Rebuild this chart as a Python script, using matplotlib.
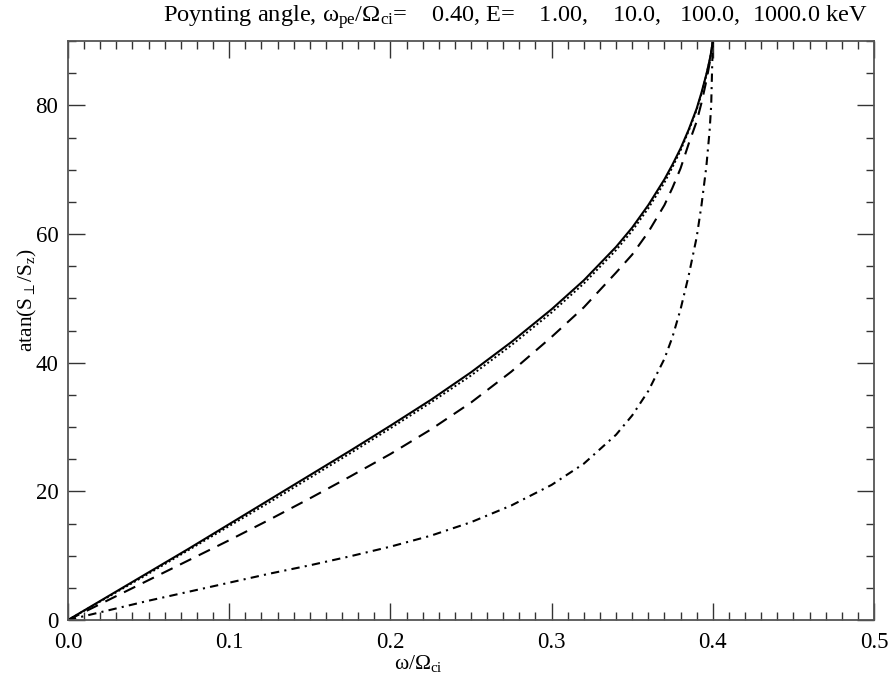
import numpy as np
import matplotlib
matplotlib.use('Agg')
import matplotlib.pyplot as plt
from matplotlib.ticker import MultipleLocator, FormatStrFormatter

plt.rcParams['font.family'] = ['Liberation Serif', 'DejaVu Serif']
plt.rcParams['mathtext.fontset'] = 'custom'
plt.rcParams['mathtext.rm'] = 'Liberation Serif'
plt.rcParams['mathtext.it'] = 'Liberation Serif'

# omega / Omega_ci
freq = [0.0, 0.025, 0.05, 0.075, 0.1, 0.125, 0.15, 0.175, 0.2, 0.225, 0.25, 0.275, 0.3,
        0.32, 0.34, 0.35, 0.36, 0.37, 0.375, 0.38, 0.385, 0.39, 0.393, 0.396, 0.398, 0.399, 0.4]

# Poynting angle (deg) for E = 1, 10, 100, 1000 keV
ang_1kev = [0.0, 3.7, 7.4, 11.1, 14.9, 18.7, 22.5, 26.3, 30.2, 34.2, 38.5, 43.2, 48.3,
            52.8, 58.0, 61.0, 64.5, 68.5, 70.8, 73.3, 76.2, 79.5, 82.0, 84.8, 87.0, 88.3, 90.0]
ang_10kev = [0.0, 3.6, 7.2, 10.9, 14.6, 18.3, 22.1, 25.9, 29.8, 33.8, 38.0, 42.7, 47.8,
             52.3, 57.5, 60.5, 64.0, 68.0, 70.4, 73.0, 76.0, 79.3, 81.8, 84.7, 86.9, 88.2, 90.0]
ang_100kev = [0.0, 3.1, 6.2, 9.3, 12.4, 15.6, 18.9, 22.3, 25.8, 29.6, 33.8, 38.6, 44.0,
              48.6, 54.0, 56.8, 60.3, 64.5, 67.2, 70.2, 74.0, 77.5, 80.4, 83.8, 86.5, 88.0, 90.0]
ang_1000kev = [0.0, 1.5, 3.0, 4.4, 5.8, 7.2, 8.5, 9.9, 11.4, 13.1, 15.2, 17.8, 21.0,
               24.3, 28.8, 31.8, 35.6, 40.6, 44.0, 48.3, 53.5, 59.5, 64.5, 70.5, 76.0, 80.0, 90.0]

fig = plt.figure(figsize=(8.9, 6.76), dpi=100)
ax = fig.add_axes([68/890, 56/676, 806/890, 579/676])

ax.plot(freq, ang_1kev, color='black', lw=1.5, ls='-')
ax.plot(freq, ang_10kev, color='black', lw=1.4, ls=(0, (1, 1.3)))
ax.plot(freq, ang_100kev, color='black', lw=1.5, ls=(0, (6, 4)))
ax.plot(freq, ang_1000kev, color='black', lw=1.5, ls=(0, (4, 2.5, 1, 2.5)))

ax.set_xlim(0, 0.5)
ax.set_ylim(0, 90)
ax.xaxis.set_major_locator(MultipleLocator(0.1))
ax.xaxis.set_minor_locator(MultipleLocator(0.01))
ax.yaxis.set_major_locator(MultipleLocator(20))
ax.yaxis.set_minor_locator(MultipleLocator(5))
ax.xaxis.set_major_formatter(FormatStrFormatter('%.1f'))
ax.tick_params(which='both', direction='in', top=True, right=True, labelsize=16.5, color='#333333')
ax.tick_params(which='major', length=12, width=1)
ax.tick_params(which='minor', length=6, width=1)
ax.tick_params(axis='x', pad=9)
ax.tick_params(axis='y', pad=7)
for s in ax.spines.values():
    s.set_color('#555555')
    s.set_linewidth(1.3)

fig.text(515/890, 1 - 17/676, r'Poynting angle, ω$_{\rm pe}$/Ω$_{\rm ci}$=    0.40, E=    1.00,    10.0,   100.0,  1000.0 keV',
         ha='center', va='center', fontsize=17.6)
fig.text(418/890, 1 - 663/676, r'ω/Ω$_{\rm ci}$', ha='center', va='center', fontsize=15.5)
fig.text(27/890, 1 - 300/676, r'atan(S$_\perp$/S$_{\rm z}$)', ha='center', va='center', fontsize=15.5, rotation=90)

fig.savefig('out.png', dpi=100)
